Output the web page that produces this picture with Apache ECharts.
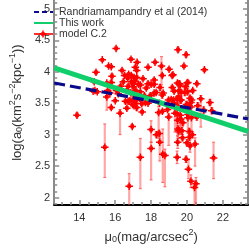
<!DOCTYPE html>
<html><head><meta charset="utf-8">
<script src="https://cdn.jsdelivr.net/npm/echarts@6/dist/echarts.min.js"></script>
<style>html,body{margin:0;padding:0;background:#fff}#c{width:249px;height:249px}</style>
</head><body><div id="c"></div>
<script>
// model C.2 points: mu0 (mag/arcsec^2), log(a0), lower / upper error
const mu0 = [13.87,14.77,14.83,14.87,14.93,15.00,15.28,15.42,15.53,15.53,15.58,15.63,15.70,15.78,15.78,15.78,15.82,16.00,16.05,16.07,
16.17,16.27,16.30,16.38,16.45,16.52,16.57,16.67,16.70,16.72,16.75,16.72,16.65,16.78,16.82,16.88,16.90,16.90,16.88,16.95,
16.97,17.00,17.00,17.00,17.00,17.05,17.05,17.08,17.12,17.12,17.12,17.15,17.20,17.20,17.20,17.22,17.22,17.30,17.40,17.40,
17.42,17.40,17.48,17.50,17.55,17.68,17.63,17.73,17.83,17.83,17.83,17.95,18.00,18.00,18.00,18.17,18.17,18.17,18.28,18.22,
18.30,18.42,18.47,18.45,18.48,18.50,18.58,18.62,18.62,18.63,18.67,18.65,18.77,18.92,18.92,18.97,18.98,19.00,19.12,19.17,
19.18,19.22,19.25,19.25,19.28,19.33,19.37,19.45,19.47,19.48,19.45,19.45,19.48,19.48,19.50,19.50,19.53,19.53,19.55,19.57,
19.62,19.62,19.63,19.65,19.67,19.67,19.72,19.77,19.75,19.83,19.88,19.92,19.95,19.97,19.95,20.00,20.00,20.05,20.05,20.03,
20.08,20.05,20.05,20.13,20.13,20.17,20.17,20.22,20.22,20.25,20.25,20.22,20.30,20.32,20.42,20.45,20.50,20.55,20.55,20.60,
20.77,20.93,20.97,21.28,21.38,21.48];
const logA0 = [3.31,3.69,3.84,3.70,3.99,3.68,4.19,2.80,3.82,3.60,3.70,4.09,3.66,4.08,3.83,3.43,3.93,3.54,4.37,3.70,
3.65,3.34,3.77,4.02,3.84,3.94,3.53,3.71,3.90,3.53,3.96,3.77,3.42,2.18,3.54,4.20,3.94,3.84,3.66,3.13,
3.48,3.81,3.76,3.65,3.56,3.46,3.91,3.85,4.07,3.55,3.50,3.70,4.02,3.91,3.43,4.15,3.57,3.80,3.79,3.68,
3.55,2.64,3.49,3.36,3.89,3.51,3.62,3.74,4.07,3.81,3.50,3.62,3.80,3.08,2.78,3.87,3.80,3.66,3.67,4.15,
3.00,3.35,3.50,3.02,2.88,3.75,4.09,3.94,3.63,3.37,3.66,2.69,2.67,3.49,3.40,3.55,3.28,4.04,3.56,3.94,
3.75,3.95,3.55,3.49,3.69,3.34,3.46,2.64,3.82,2.88,3.33,3.57,3.23,3.46,4.35,3.09,3.06,3.60,3.70,3.81,
3.79,3.31,3.55,3.25,3.55,3.67,3.06,3.19,2.95,4.09,3.67,3.76,4.27,3.48,2.61,3.82,2.87,3.83,3.46,3.68,
2.45,3.27,3.32,3.05,2.96,2.82,3.58,3.44,3.51,3.55,3.27,2.26,3.00,3.70,2.16,2.85,2.22,3.81,3.28,3.46,
3.57,3.39,4.03,3.51,3.38,2.63];
const errLow = [0.04,0.02,0.02,0.02,0.03,0.02,0.02,0.48,0.02,0.21,0.02,0.02,0.03,0.02,0.03,0.03,0.04,0.02,0.02,0.03,
0.02,0.34,0.03,0.02,0.03,0.02,0.03,0.03,0.03,0.03,0.02,0.03,0.03,0.40,0.03,0.02,0.02,0.03,0.03,0.03,
0.03,0.03,0.03,0.03,0.03,0.03,0.03,0.03,0.02,0.03,0.03,0.03,0.02,0.03,0.05,0.02,0.03,0.03,0.03,0.03,
0.03,0.50,0.03,0.03,0.02,0.03,0.03,0.03,0.02,0.03,0.03,0.03,0.03,0.20,0.50,0.03,0.03,0.03,0.03,0.02,
0.05,0.30,0.03,0.08,0.30,0.05,0.30,0.03,0.05,0.03,0.03,0.45,0.50,0.03,0.03,0.03,0.45,0.03,0.03,0.03,
0.03,0.03,0.03,0.03,0.03,0.30,0.03,0.10,0.03,0.10,0.30,0.05,0.25,0.05,0.04,0.15,0.05,0.05,0.05,0.05,
0.03,0.30,0.05,0.25,0.05,0.05,0.05,0.05,0.05,0.03,0.05,0.03,0.04,0.05,0.05,0.03,0.05,0.03,0.05,0.05,
0.15,0.25,0.05,0.05,0.05,0.10,0.05,0.05,0.05,0.05,0.20,0.10,0.05,0.03,0.30,0.35,0.40,0.03,0.05,0.05,
0.45,0.05,0.03,0.05,0.05,0.33];
const errHigh = [0.04,0.02,0.02,0.02,0.03,0.02,0.02,0.37,0.02,0.06,0.02,0.02,0.03,0.02,0.03,0.03,0.04,0.02,0.02,0.03,
0.02,0.06,0.03,0.02,0.03,0.02,0.03,0.03,0.03,0.03,0.02,0.03,0.03,0.20,0.03,0.02,0.02,0.03,0.03,0.03,
0.03,0.03,0.03,0.03,0.03,0.03,0.03,0.03,0.02,0.03,0.03,0.03,0.02,0.03,0.05,0.02,0.03,0.03,0.03,0.03,
0.03,0.30,0.03,0.03,0.02,0.03,0.03,0.03,0.02,0.03,0.03,0.03,0.03,0.14,0.10,0.03,0.03,0.03,0.03,0.02,
0.05,0.10,0.03,0.05,0.10,0.05,0.15,0.03,0.05,0.03,0.03,0.40,0.10,0.03,0.03,0.03,0.05,0.03,0.03,0.03,
0.03,0.03,0.03,0.03,0.03,0.05,0.03,0.10,0.03,0.10,0.08,0.05,0.08,0.05,0.04,0.05,0.05,0.05,0.05,0.05,
0.03,0.08,0.05,0.08,0.05,0.05,0.05,0.05,0.05,0.03,0.05,0.03,0.04,0.05,0.05,0.03,0.05,0.03,0.05,0.05,
0.15,0.08,0.05,0.05,0.05,0.10,0.05,0.05,0.05,0.05,0.08,0.10,0.05,0.03,0.10,0.10,0.10,0.03,0.05,0.05,
0.05,0.05,0.03,0.05,0.05,0.25];
// fitted relations (end points at the axis limits)
const fitMu = [12.6, 23.4];
const thisWork = [4.06, 3.05];
const randriamampandry = [3.82, 3.25];
// axis ticks
const xMajor = [14, 16, 18, 20, 22];
const yMajor = [2, 2.5, 3, 3.5, 4, 4.5, 5];
const xMinor = [13,13.5,14,14.5,15,15.5,16,16.5,17,17.5,18,18.5,19,19.5,20,20.5,21,21.5,22,22.5,23];
const yMinor = [1.9,2.0,2.1,2.2,2.3,2.4,2.5,2.6,2.7,2.8,2.9,3.0,3.1,3.2,3.3,3.4,3.5,3.6,3.7,3.8,3.9,4.0,4.1,4.2,4.3,4.4,4.5,4.6,4.7,4.8,4.9,5.0,5.1];

const XMIN = 12.6, XMAX = 23.4, YMIN = 1.88, YMAX = 5.14;
const FONT = 'Liberation Sans';
const TICKC = '#8a8a8a';
const PLUS = 'M2.4,0H3.6V1.5H4.5V2.4H6V3.6H4.5V4.5H3.6V6H2.4V4.5H1.5V3.6H0V2.4H1.5V1.5H2.4Z';
const chart = echarts.init(document.getElementById('c'), null, {renderer: 'canvas'});

function xAx(extra) {
  return Object.assign({type: 'value', min: XMIN, max: XMAX, position: 'bottom', splitLine: {show: false}}, extra);
}
function yAx(extra) {
  return Object.assign({type: 'value', min: YMIN, max: YMAX, splitLine: {show: false}}, extra);
}
const richStyle = {
  n: {fontSize: 13, fontFamily: FONT, color: '#333', lineHeight: 16, verticalAlign: 'bottom'},
  sub: {fontSize: 9, fontFamily: FONT, color: '#333', verticalAlign: 'bottom', lineHeight: 12},
  sup: {fontSize: 9, fontFamily: FONT, color: '#333', verticalAlign: 'top', lineHeight: 12}
};
// legend marker polygon centred at (43,34)
const legPlus = [[-0.6,-3],[0.6,-3],[0.6,-1.5],[1.5,-1.5],[1.5,-0.6],[3,-0.6],[3,0.6],[1.5,0.6],[1.5,1.5],[0.6,1.5],[0.6,3],[-0.6,3],[-0.6,1.5],[-1.5,1.5],[-1.5,0.6],[-3,0.6],[-3,-0.6],[-1.5,-0.6],[-1.5,-1.5],[-0.6,-1.5]].map(p => [43 + p[0] * 1.2, 34 + p[1] * 1.2]);

const option = {
  animation: false,
  backgroundColor: '#fff',
  grid: {left: 32, right: 1, top: 0, bottom: 28.5, containLabel: false},
  xAxis: [
    xAx({
      axisLine: {show: true, onZero: false, lineStyle: {color: '#000', width: 2}},
      axisTick: {show: true, inside: true, length: 5, customValues: xMajor, lineStyle: {color: TICKC, width: 1.5}},
      axisLabel: {customValues: xMajor, margin: 7, fontSize: 11, fontFamily: FONT, color: '#333'},
      name: '{n|μ}{sub|0}{n|(mag/arcsec}{sup|2}{n|)}',
      nameLocation: 'middle', nameGap: 14,
      nameTextStyle: {fontFamily: FONT, color: '#333', rich: richStyle}
    }),
    xAx({
      axisLine: {show: false, onZero: false},
      axisTick: {show: true, inside: true, length: 3, customValues: xMinor, lineStyle: {color: TICKC, width: 1.5}},
      axisLabel: {show: false}
    })
  ],
  yAxis: [
    yAx({
      position: 'left',
      axisLine: {show: true, onZero: false, lineStyle: {color: TICKC, width: 2}},
      axisTick: {show: true, inside: true, length: 5, customValues: yMajor, lineStyle: {color: TICKC, width: 1.5}},
      axisLabel: {customValues: yMajor, margin: 4, fontSize: 11, fontFamily: FONT, color: '#333'},
      name: '{n|log(a}{sub|0}{n|(km}{sup|2}{n|s}{sup|−2}{n|kpc}{sup|−1}{n|))}',
      nameLocation: 'middle', nameGap: 16, nameRotate: 90,
      nameTextStyle: {fontFamily: FONT, color: '#333', rich: richStyle}
    }),
    yAx({
      position: 'left',
      axisLine: {show: false, onZero: false},
      axisTick: {show: true, inside: true, length: 3, customValues: yMinor, lineStyle: {color: TICKC, width: 1.5}},
      axisLabel: {show: false}
    }),
    yAx({
      position: 'right',
      axisLine: {show: true, onZero: false, lineStyle: {color: TICKC, width: 2}},
      axisTick: {show: true, inside: true, length: 5, customValues: yMajor, lineStyle: {color: TICKC, width: 1.5}},
      axisLabel: {show: false}
    }),
    yAx({
      position: 'right',
      axisLine: {show: false, onZero: false},
      axisTick: {show: true, inside: true, length: 3, customValues: yMinor, lineStyle: {color: TICKC, width: 1.5}},
      axisLabel: {show: false}
    })
  ],
  series: [
    {
      name: 'errors', type: 'custom', clip: true, z: 2,
      data: mu0.map((x, i) => [x, logA0[i] - errLow[i], logA0[i] + errHigh[i]]),
      encode: {x: 0, y: [1, 2]},
      renderItem: function (params, api) {
        const x = api.value(0);
        const p1 = api.coord([x, api.value(1)]);
        const p2 = api.coord([x, api.value(2)]);
        const st = {stroke: 'rgba(255,80,80,0.5)', lineWidth: 2.2};
        const cap = {stroke: 'rgba(255,40,40,0.65)', lineWidth: 1};
        return {type: 'group', children: [
          {type: 'line', shape: {x1: p1[0], y1: p1[1], x2: p2[0], y2: p2[1]}, style: st},
          {type: 'line', shape: {x1: p1[0] - 1.5, y1: p1[1], x2: p1[0] + 1.5, y2: p1[1]}, style: cap},
          {type: 'line', shape: {x1: p2[0] - 1.5, y1: p2[1], x2: p2[0] + 1.5, y2: p2[1]}, style: cap}
        ]};
      }
    },
    {
      name: 'model C.2', type: 'scatter', z: 3,
      symbol: 'path://' + PLUS,
      symbolSize: 7.5,
      itemStyle: {color: '#ff0000', opacity: 1},
      data: mu0.map((x, i) => [x, logA0[i]])
    },
    {
      name: 'This work', type: 'line', z: 4, showSymbol: false, symbol: 'none',
      lineStyle: {color: '#10cf6a', width: 5},
      data: fitMu.map((x, i) => [x, thisWork[i]])
    },
    {
      name: 'Randriamampandry et al (2014)', type: 'line', z: 5, showSymbol: false, symbol: 'none',
      lineStyle: {color: '#0a0a8a', width: 3.2, type: [11, 5]},
      data: fitMu.map((x, i) => [x, randriamampandry[i]])
    }
  ],
  graphic: [
    {type: 'line', shape: {x1: 34, y1: 12, x2: 53, y2: 12}, style: {stroke: '#0a0a8a', lineWidth: 2, lineDash: [5, 3]}, z: 10},
    {type: 'text', x: 59, y: 12, style: {text: 'Randriamampandry et al (2014)', fontSize: 10.5, fontFamily: FONT, fill: '#333', verticalAlign: 'middle'}, z: 10},
    {type: 'line', shape: {x1: 34, y1: 23, x2: 53, y2: 23}, style: {stroke: '#10cf6a', lineWidth: 2}, z: 10},
    {type: 'text', x: 59, y: 23, style: {text: 'This work', fontSize: 10.5, fontFamily: FONT, fill: '#333', verticalAlign: 'middle'}, z: 10},
    {type: 'line', shape: {x1: 34, y1: 34, x2: 53, y2: 34}, style: {stroke: '#ff3030', lineWidth: 2}, z: 10},
    {type: 'polygon', shape: {points: legPlus}, style: {fill: '#ff0000'}, z: 11},
    {type: 'text', x: 59, y: 34, style: {text: 'model C.2', fontSize: 10.5, fontFamily: FONT, fill: '#333', verticalAlign: 'middle'}, z: 10}
  ]
};
chart.setOption(option);
</script>
</body></html>
